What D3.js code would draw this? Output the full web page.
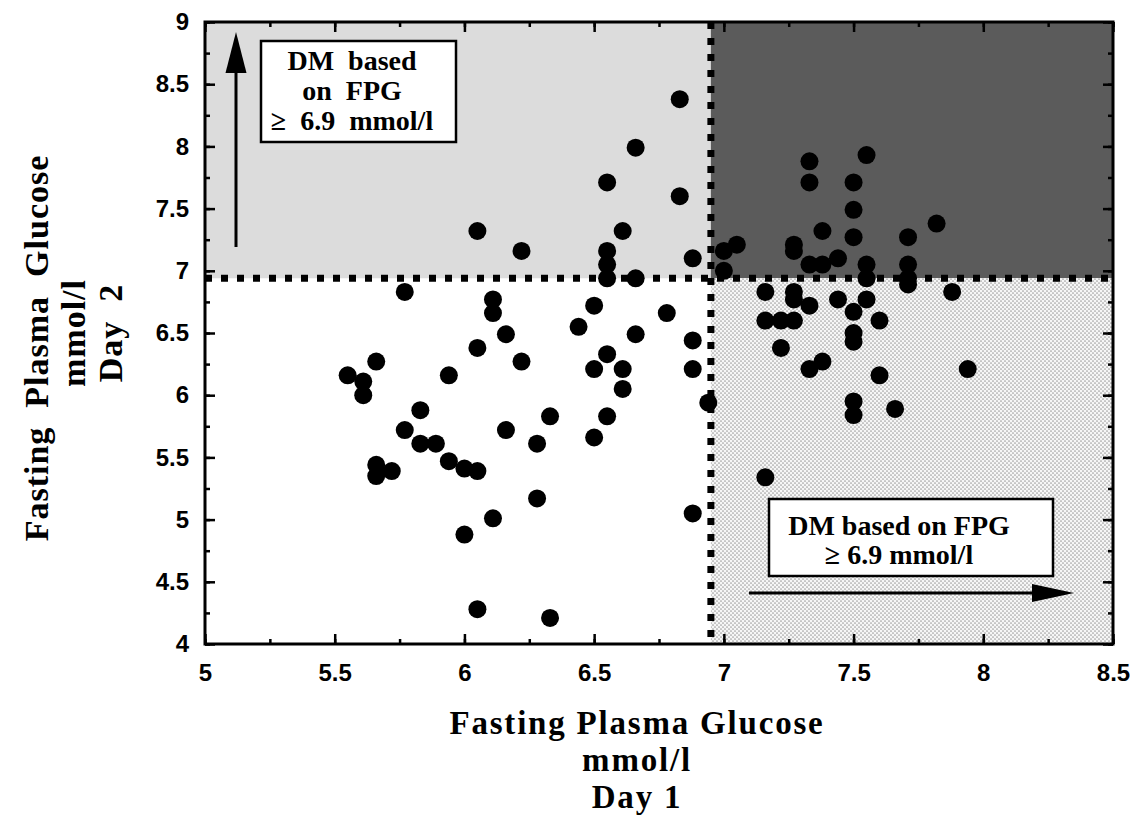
<!DOCTYPE html>
<html>
<head>
<meta charset="utf-8">
<script src="https://cdn.jsdelivr.net/npm/d3@7"></script>
<style>
  body { margin: 0; background: #fff; }
  svg { display: block; }
</style>
</head>
<body>
<div id="chart"></div>
<script>
// FPG on day 1 (x) and day 2 (y), mmol/l
var day1 = [
  6.83, 6.66, 6.55, 6.83, 6.05, 6.61, 6.22, 6.55, 6.55, 6.88, 6.55, 6.66,
  5.77, 6.11, 6.11, 6.50, 6.78, 6.44, 6.16, 6.66, 6.05, 6.88, 6.55, 5.66, 6.22,
  5.55, 5.61, 5.61, 5.94, 6.50, 6.61, 6.88, 6.61, 6.94, 5.83, 6.33, 6.55, 5.77,
  6.16, 5.83, 5.89, 6.28, 6.50, 5.94, 6.00, 6.05, 5.66, 5.66, 5.72, 6.28, 6.11,
  6.00, 6.88, 6.05, 6.33,
  7.33, 7.33, 7.55, 7.50, 7.50, 7.38, 7.50, 7.05, 7.00, 7.00, 7.27, 7.27, 7.33,
  7.38, 7.44, 7.55, 7.55, 7.71, 7.71, 7.71, 7.71, 7.82,
  7.88, 7.16, 7.27, 7.27, 7.33, 7.44, 7.55, 7.50, 7.60, 7.16, 7.22, 7.27, 7.50,
  7.50, 7.22, 7.38, 7.33, 7.60, 7.94, 7.50, 7.50, 7.66, 7.16
];
var day2 = [
  8.38, 7.99, 7.71, 7.60, 7.32, 7.32, 7.16, 7.16, 7.05, 7.10, 6.94, 6.94,
  6.83, 6.77, 6.66, 6.72, 6.66, 6.55, 6.49, 6.49, 6.38, 6.44, 6.33, 6.27, 6.27,
  6.16, 6.11, 6.00, 6.16, 6.21, 6.21, 6.21, 6.05, 5.94, 5.88, 5.83, 5.83, 5.72,
  5.72, 5.61, 5.61, 5.61, 5.66, 5.47, 5.41, 5.39, 5.44, 5.35, 5.39, 5.17, 5.01,
  4.88, 5.05, 4.28, 4.21,
  7.88, 7.71, 7.93, 7.71, 7.49, 7.32, 7.27, 7.21, 7.16, 7.00, 7.21, 7.16, 7.05,
  7.05, 7.10, 7.05, 6.94, 7.27, 7.05, 6.94, 6.89, 7.38,
  6.83, 6.83, 6.83, 6.77, 6.72, 6.77, 6.77, 6.67, 6.60, 6.60, 6.60, 6.60, 6.50,
  6.43, 6.38, 6.27, 6.21, 6.16, 6.21, 5.95, 5.84, 5.89, 5.34
];

var xTicks = [5, 5.5, 6, 6.5, 7, 7.5, 8, 8.5];
var yTicks = [4, 4.5, 5, 5.5, 6, 6.5, 7, 7.5, 8, 8.5, 9];
var cutX = 6.95, cutY = 6.94;

var width = 1130, height = 816;
var margin = { top: 22, right: 17, bottom: 172, left: 205 };
var serif = "'Liberation Serif', 'Times New Roman', serif";
var sans = "'Liberation Sans', Arial, sans-serif";

var svg = d3.select("#chart").append("svg")
  .attr("width", width)
  .attr("height", height);

var x = d3.scaleLinear().domain([5, 8.5]).range([margin.left, width - margin.right]);
var y = d3.scaleLinear().domain([4, 9]).range([height - margin.bottom, margin.top]);

// dotted fill for lower right quadrant
var defs = svg.append("defs");
var pat = defs.append("pattern")
  .attr("id", "dots")
  .attr("patternUnits", "userSpaceOnUse")
  .attr("width", 4).attr("height", 4);
pat.append("rect").attr("width", 4).attr("height", 4).attr("fill", "#f6f6f6");
pat.append("circle").attr("cx", 1).attr("cy", 1).attr("r", 0.85).attr("fill", "#a0a0a0");
pat.append("circle").attr("cx", 3).attr("cy", 3).attr("r", 0.85).attr("fill", "#a0a0a0");

// quadrants
svg.append("rect")
  .attr("x", x(5)).attr("y", y(9))
  .attr("width", x(cutX) - x(5)).attr("height", y(cutY) - y(9))
  .attr("fill", "#dcdcdc");
svg.append("rect")
  .attr("x", x(cutX)).attr("y", y(9))
  .attr("width", x(8.5) - x(cutX)).attr("height", y(cutY) - y(9))
  .attr("fill", "#5b5b5b");
svg.append("rect")
  .attr("x", x(cutX)).attr("y", y(cutY))
  .attr("width", x(8.5) - x(cutX)).attr("height", y(4) - y(cutY))
  .attr("fill", "url(#dots)");

// axes, ticks pointing inward
function clean(g) { g.select(".domain").remove(); }
var minorX = d3.range(5, 8.51, 0.25), minorY = d3.range(4, 9.01, 0.25);

svg.append("g").attr("transform", "translate(0," + y(4) + ")")
  .call(d3.axisBottom(x).tickValues(minorX).tickSize(-5).tickFormat(""))
  .call(clean);
svg.append("g").attr("transform", "translate(0," + y(4) + ")")
  .call(d3.axisBottom(x).tickValues(xTicks).tickSize(-10).tickPadding(20)
    .tickFormat(d3.format("")))
  .call(clean);
svg.append("g").attr("transform", "translate(0," + y(9) + ")")
  .call(d3.axisTop(x).tickValues(minorX).tickSize(-5).tickFormat(""))
  .call(clean);
svg.append("g").attr("transform", "translate(0," + y(9) + ")")
  .call(d3.axisTop(x).tickValues(xTicks).tickSize(-10).tickFormat(""))
  .call(clean);

svg.append("g").attr("transform", "translate(" + x(5) + ",0)")
  .call(d3.axisLeft(y).tickValues(minorY).tickSize(-5).tickFormat(""))
  .call(clean);
svg.append("g").attr("transform", "translate(" + x(5) + ",0)")
  .call(d3.axisLeft(y).tickValues(yTicks).tickSize(-10).tickPadding(16)
    .tickFormat(d3.format("")))
  .call(clean);
svg.append("g").attr("transform", "translate(" + x(8.5) + ",0)")
  .call(d3.axisRight(y).tickValues(minorY).tickSize(-5).tickFormat(""))
  .call(clean);
svg.append("g").attr("transform", "translate(" + x(8.5) + ",0)")
  .call(d3.axisRight(y).tickValues(yTicks).tickSize(-10).tickFormat(""))
  .call(clean);

svg.selectAll(".tick line").attr("stroke", "#000").attr("stroke-width", 2.5);
svg.selectAll(".tick text")
  .attr("fill", "#000")
  .style("font-family", sans)
  .style("font-weight", "bold")
  .style("font-size", "24px");

// frame
svg.append("rect")
  .attr("x", x(5)).attr("y", y(9))
  .attr("width", x(8.5) - x(5)).attr("height", y(4) - y(9))
  .attr("fill", "none").attr("stroke", "#000").attr("stroke-width", 3);

// cut-off lines
svg.append("line")
  .attr("x1", x(5)).attr("x2", x(8.5))
  .attr("y1", y(cutY)).attr("y2", y(cutY))
  .attr("stroke", "#000").attr("stroke-width", 7).attr("stroke-dasharray", "7,9");
svg.append("line")
  .attr("x1", x(cutX)).attr("x2", x(cutX))
  .attr("y1", y(9)).attr("y2", y(4))
  .attr("stroke", "#000").attr("stroke-width", 7).attr("stroke-dasharray", "7,9");

// points
svg.append("g").selectAll("circle")
  .data(day1)
  .enter()
  .append("circle")
  .attr("cx", function (d) { return x(d); })
  .attr("cy", function (d, i) { return y(day2[i]); })
  .attr("r", 9)
  .attr("fill", "#000");

// annotation box, upper left
svg.append("rect")
  .attr("x", 261).attr("y", 41).attr("width", 195).attr("height", 101)
  .attr("fill", "#fff").attr("stroke", "#000").attr("stroke-width", 2.5);
var box1 = ["DM\u00a0\u00a0based", "on\u00a0\u00a0FPG", "\u2265\u00a0\u00a06.9\u00a0\u00a0mmol/l"];
svg.append("g").selectAll("text")
  .data(box1).enter().append("text")
  .attr("x", 352).attr("y", function (d, i) { return 70 + i * 30; })
  .attr("text-anchor", "middle")
  .style("font-family", serif).style("font-weight", "bold").style("font-size", "28px")
  .text(function (d) { return d; });

// arrow up
svg.append("line")
  .attr("x1", 236).attr("x2", 236).attr("y1", 247).attr("y2", 70)
  .attr("stroke", "#000").attr("stroke-width", 3);
svg.append("path")
  .attr("d", "M236,32 L246.5,73 L225.5,73 Z").attr("fill", "#000");

// annotation box, lower right
svg.append("rect")
  .attr("x", 769).attr("y", 499).attr("width", 284).attr("height", 77)
  .attr("fill", "#fff").attr("stroke", "#000").attr("stroke-width", 2.5);
var box2 = ["DM based on FPG", "\u2265 6.9 mmol/l"];
svg.append("g").selectAll("text")
  .data(box2).enter().append("text")
  .attr("x", 899).attr("y", function (d, i) { return 535 + i * 29; })
  .attr("text-anchor", "middle")
  .style("font-family", serif).style("font-weight", "bold").style("font-size", "28px")
  .text(function (d) { return d; });

// arrow right
svg.append("line")
  .attr("x1", 749).attr("x2", 1035).attr("y1", 593).attr("y2", 593)
  .attr("stroke", "#000").attr("stroke-width", 3);
svg.append("path")
  .attr("d", "M1074,593 L1032,584 L1032,602 Z").attr("fill", "#000");

// axis titles
var xTitle = ["Fasting Plasma Glucose", "mmol/l", "Day 1"];
svg.append("g").selectAll("text")
  .data(xTitle).enter().append("text")
  .attr("x", 637).attr("y", function (d, i) { return 734 + i * 37; })
  .attr("text-anchor", "middle")
  .style("font-family", serif).style("font-weight", "bold").style("font-size", "33px")
  .style("letter-spacing", "1.8px")
  .text(function (d) { return d; });

var yTitle = ["Fasting\u00a0\u00a0Plasma\u00a0\u00a0Glucose", "mmol/l", "Day\u00a0\u00a02"];
var yTitleCenter = [348, 333, 333];
svg.append("g").selectAll("text")
  .data(yTitle).enter().append("text")
  .attr("transform", function (d, i) {
    return "translate(" + (48 + i * 37) + "," + yTitleCenter[i] + ") rotate(-90)";
  })
  .attr("text-anchor", "middle")
  .style("font-family", serif).style("font-weight", "bold").style("font-size", "34px")
  .style("letter-spacing", "1px")
  .text(function (d) { return d; });
</script>
</body>
</html>
